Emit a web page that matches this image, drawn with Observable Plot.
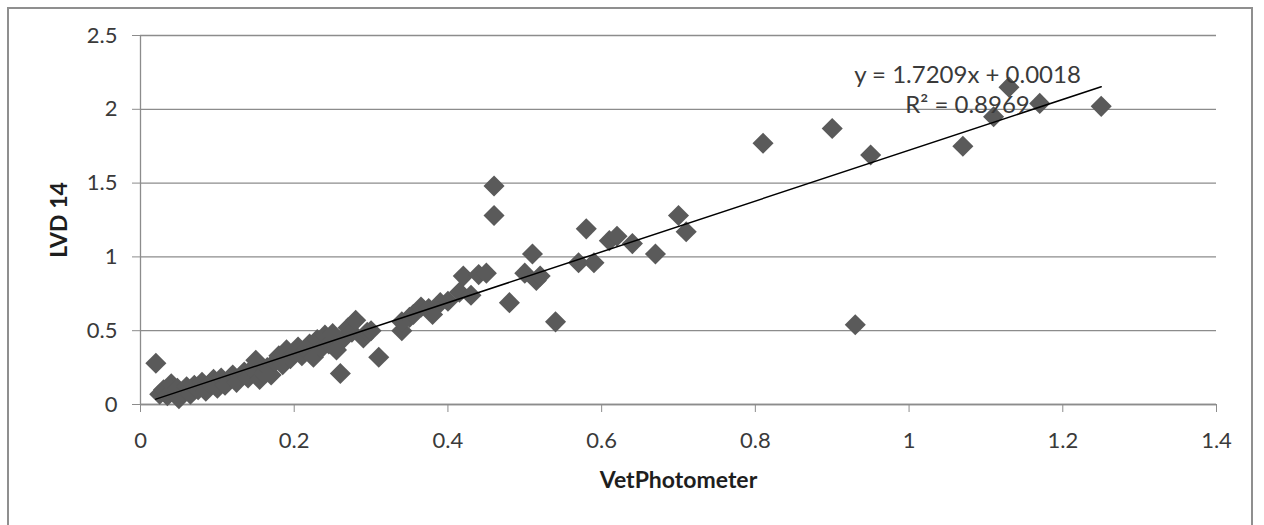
<!DOCTYPE html>
<html><head><meta charset="utf-8">
<script src="https://cdn.jsdelivr.net/npm/d3@7"></script>
<script src="https://cdn.jsdelivr.net/npm/@observablehq/plot@0.6"></script>
<style>
html,body{margin:0;padding:0;background:#fff;}
#wrap{position:relative;width:1264px;height:525px;overflow:hidden;}
#frame{position:absolute;left:7px;top:7px;width:1246px;height:560px;border:2px solid #8f8f8f;box-sizing:border-box;pointer-events:none;}
svg{display:block}
</style></head><body><div id="wrap"><div id="chart"></div><div id="frame"></div></div>
<script>
const vetPhotometer = [0.020,0.025,0.030,0.035,0.040,0.042,0.048,0.050,0.055,0.060,0.065,0.070,0.075,0.080,0.085,0.090,0.095,0.100,0.105,0.110,0.115,0.120,0.125,0.130,0.135,0.140,0.145,0.150,0.155,0.160,0.165,0.170,0.175,0.180,0.185,0.190,0.195,0.200,0.205,0.210,0.215,0.220,0.225,0.230,0.235,0.240,0.245,0.250,0.255,0.260,0.265,0.270,0.275,0.280,0.290,0.295,0.300,0.310,0.340,0.340,0.350,0.355,0.365,0.375,0.380,0.390,0.400,0.415,0.420,0.430,0.440,0.450,0.460,0.460,0.480,0.500,0.510,0.515,0.520,0.540,0.570,0.580,0.590,0.610,0.620,0.640,0.670,0.700,0.710,0.810,0.900,0.930,0.950,1.070,1.110,1.130,1.170,1.250];
const lvd14 = [0.28,0.07,0.10,0.06,0.14,0.09,0.11,0.04,0.08,0.12,0.07,0.13,0.10,0.15,0.09,0.14,0.17,0.11,0.18,0.13,0.16,0.20,0.15,0.19,0.22,0.18,0.24,0.30,0.17,0.21,0.25,0.20,0.29,0.33,0.27,0.37,0.31,0.35,0.39,0.33,0.37,0.41,0.32,0.44,0.38,0.47,0.41,0.48,0.37,0.21,0.45,0.52,0.49,0.57,0.45,0.49,0.50,0.32,0.50,0.56,0.59,0.61,0.66,0.65,0.61,0.69,0.70,0.76,0.87,0.74,0.88,0.89,1.48,1.28,0.69,0.89,1.02,0.84,0.87,0.56,0.96,1.19,0.96,1.11,1.14,1.09,1.02,1.28,1.17,1.77,1.87,0.54,1.69,1.75,1.95,2.15,2.04,2.02];

const trendSlope = 1.7209;
const trendIntercept = 0.0018;
const trendText = ["y = 1.7209x + 0.0018", "R\u00B2 = 0.8969"];
const trendTextX = [1.076, 1.076];
const trendTextY = [2.229, 2.026];

const xTicks = [0, 0.2, 0.4, 0.6, 0.8, 1, 1.2, 1.4];
const xTickLabels = ["0", "0.2", "0.4", "0.6", "0.8", "1", "1.2", "1.4"];
const yTicks = [0, 0.5, 1, 1.5, 2, 2.5];
const yTickLabels = ["0", "0.5", "1", "1.5", "2", "2.5"];
const xTitle = "VetPhotometer";
const yTitle = "LVD 14";

const points = vetPhotometer.map((x, i) => ({x, y: lvd14[i]}));
const [xmin, xmax] = d3.extent(vetPhotometer);
const trend = [xmin, xmax].map(x => ({x, y: trendSlope * x + trendIntercept}));
const labels = trendText.map((t, i) => ({text: t, x: trendTextX[i], y: trendTextY[i]}));

const gray = "#8c8c8c";
const chart = Plot.plot({
  width: 1264, height: 525,
  marginLeft: 140, marginRight: 48, marginTop: 35, marginBottom: 121,
  style: {fontFamily: "Lato, 'Open Sans', sans-serif", fontSize: "22px", color: "#3a3a3a", background: "transparent"},
  x: {domain: [0, 1.4]},
  y: {domain: [0, 2.5]},
  marks: [
    Plot.gridY(yTicks, {stroke: gray, strokeOpacity: 1, strokeWidth: 1.3}),
    Plot.ruleX([0], {stroke: gray, strokeWidth: 1.3}),
    Plot.ruleY([0], {stroke: gray, strokeWidth: 1.3}),
    Plot.axisX(xTicks, {tickSize: 8, tickPadding: 20, stroke: gray, fill: "#3a3a3a", label: null,
      tickFormat: d => xTickLabels[xTicks.indexOf(d)]}),
    Plot.axisY(yTicks, {tickSize: 8, tickPadding: 15, stroke: gray, fill: "#3a3a3a", label: null,
      tickFormat: d => yTickLabels[yTicks.indexOf(d)]}),
    Plot.dot(points, {x: "x", y: "y", symbol: "diamond2", r: 9.5, fill: "#5a5a5a", stroke: "none"}),
    Plot.line(trend, {x: "x", y: "y", stroke: "#000", strokeWidth: 1.5}),
    Plot.text(labels, {x: "x", y: "y", text: "text", fontSize: 24, fill: "#3a3a3a"}),
    Plot.text([xTitle], {text: d => d, frameAnchor: "bottom", textAnchor: "middle", lineAnchor: "middle", dy: 76, fontSize: 23, fontWeight: "bold", fill: "#1e1e1e"}),
    Plot.text([yTitle], {text: d => d, frameAnchor: "left", textAnchor: "middle", lineAnchor: "middle", dx: -81, rotate: -90, fontSize: 23, fontWeight: "bold", fill: "#1e1e1e"})
  ]
});
document.getElementById("chart").appendChild(chart);
</script>
</body></html>
